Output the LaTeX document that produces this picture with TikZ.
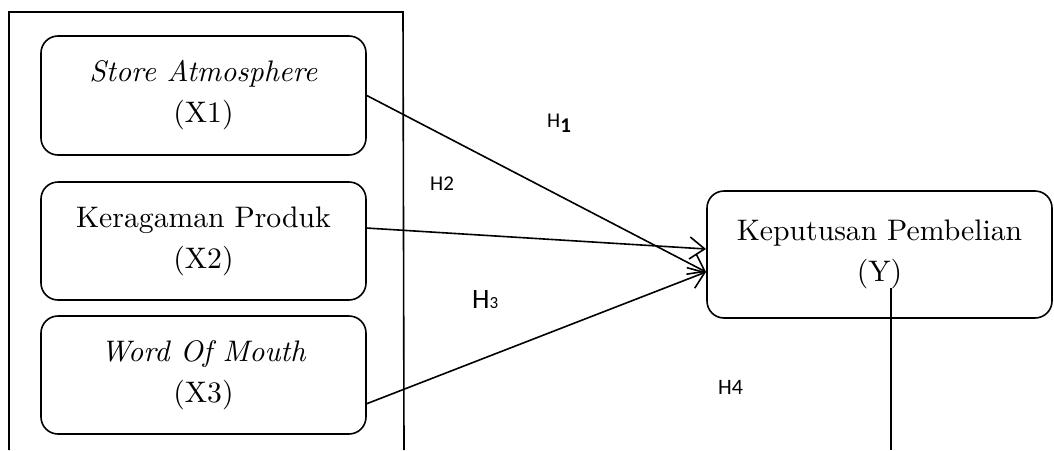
\documentclass[tikz,border=0pt]{standalone}
\usepackage{fontspec}
\setmainfont{lmroman10-regular.otf}[ItalicFont=lmroman10-italic.otf, BoldFont=lmroman10-bold.otf]
\usetikzlibrary{arrows.meta}
\newfontfamily\calib{Carlito}
\tikzset{
  varbox/.style={draw, line width=1.6pt, rounded corners=17pt, align=center,
    font=\fontsize{29.7}{41}\selectfont, inner sep=0pt},
  conn/.style={line width=1.6pt, -{Straight Barb[length=15pt,width=22pt,line width=1.6pt]}},
  plain/.style={line width=1.6pt},
  hlab/.style={font=\calib\fontsize{21}{24}\selectfont, inner sep=0pt}
}
\begin{document}
\begin{tikzpicture}[x=1pt,y=-1pt]
\useasboundingbox (0,0) rectangle (1054,450);
% outer frame
\coordinate (fa) at (9,450);
\coordinate (fb) at (9,12);
\coordinate (fc) at (403,12);
\coordinate (fd) at (404,450);
\draw[plain] (fa) -- (fb) -- (fc) -- (fd);
% boxes
\node[varbox, minimum width=325pt, minimum height=119pt] (X1) at (203.5,95.5) {\textit{Store Atmosphere}\\(X1)};
\node[varbox, minimum width=325pt, minimum height=118pt] (X2) at (203.5,241) {Keragaman Produk\\(X2)};
\node[varbox, minimum width=325pt, minimum height=118pt] (X3) at (203.5,375) {\textit{Word Of Mouth}\\(X3)};
\node[varbox, minimum width=345pt, minimum height=127pt] (Y) at (879.5,254.5) {Keputusan Pembelian\\(Y)};
% connectors
\coordinate (s1) at (X1.east);
\coordinate (s2) at (366,228);
\coordinate (s3) at (366,404);
\coordinate (t1) at (706,249);
\coordinate (t2) at (706,272);
\draw[conn] (s1) -- (t2);
\draw[conn] (s2) -- (t1);
\draw[conn] (s3) -- (t2);
\coordinate (v1) at (891,288);
\coordinate (v2) at (891,450);
\draw[plain] (v1) -- (v2);
% labels
\node[hlab, anchor=base west] (h1) at (547,127) {H\raisebox{-5pt}{\fontsize{21}{24}\selectfont\bfseries 1}};
\node[hlab, anchor=base west] (h2) at (430,190) {H2};
\node[hlab, anchor=base west, font=\calib\fontsize{28}{30}\selectfont] (h3) at (472,308) {H{\fontsize{17}{20}\selectfont 3}};
\node[hlab, anchor=base west, font=\calib\fontsize{22}{24}\selectfont] (h4) at (718,394) {H4};
\end{tikzpicture}
\end{document}
